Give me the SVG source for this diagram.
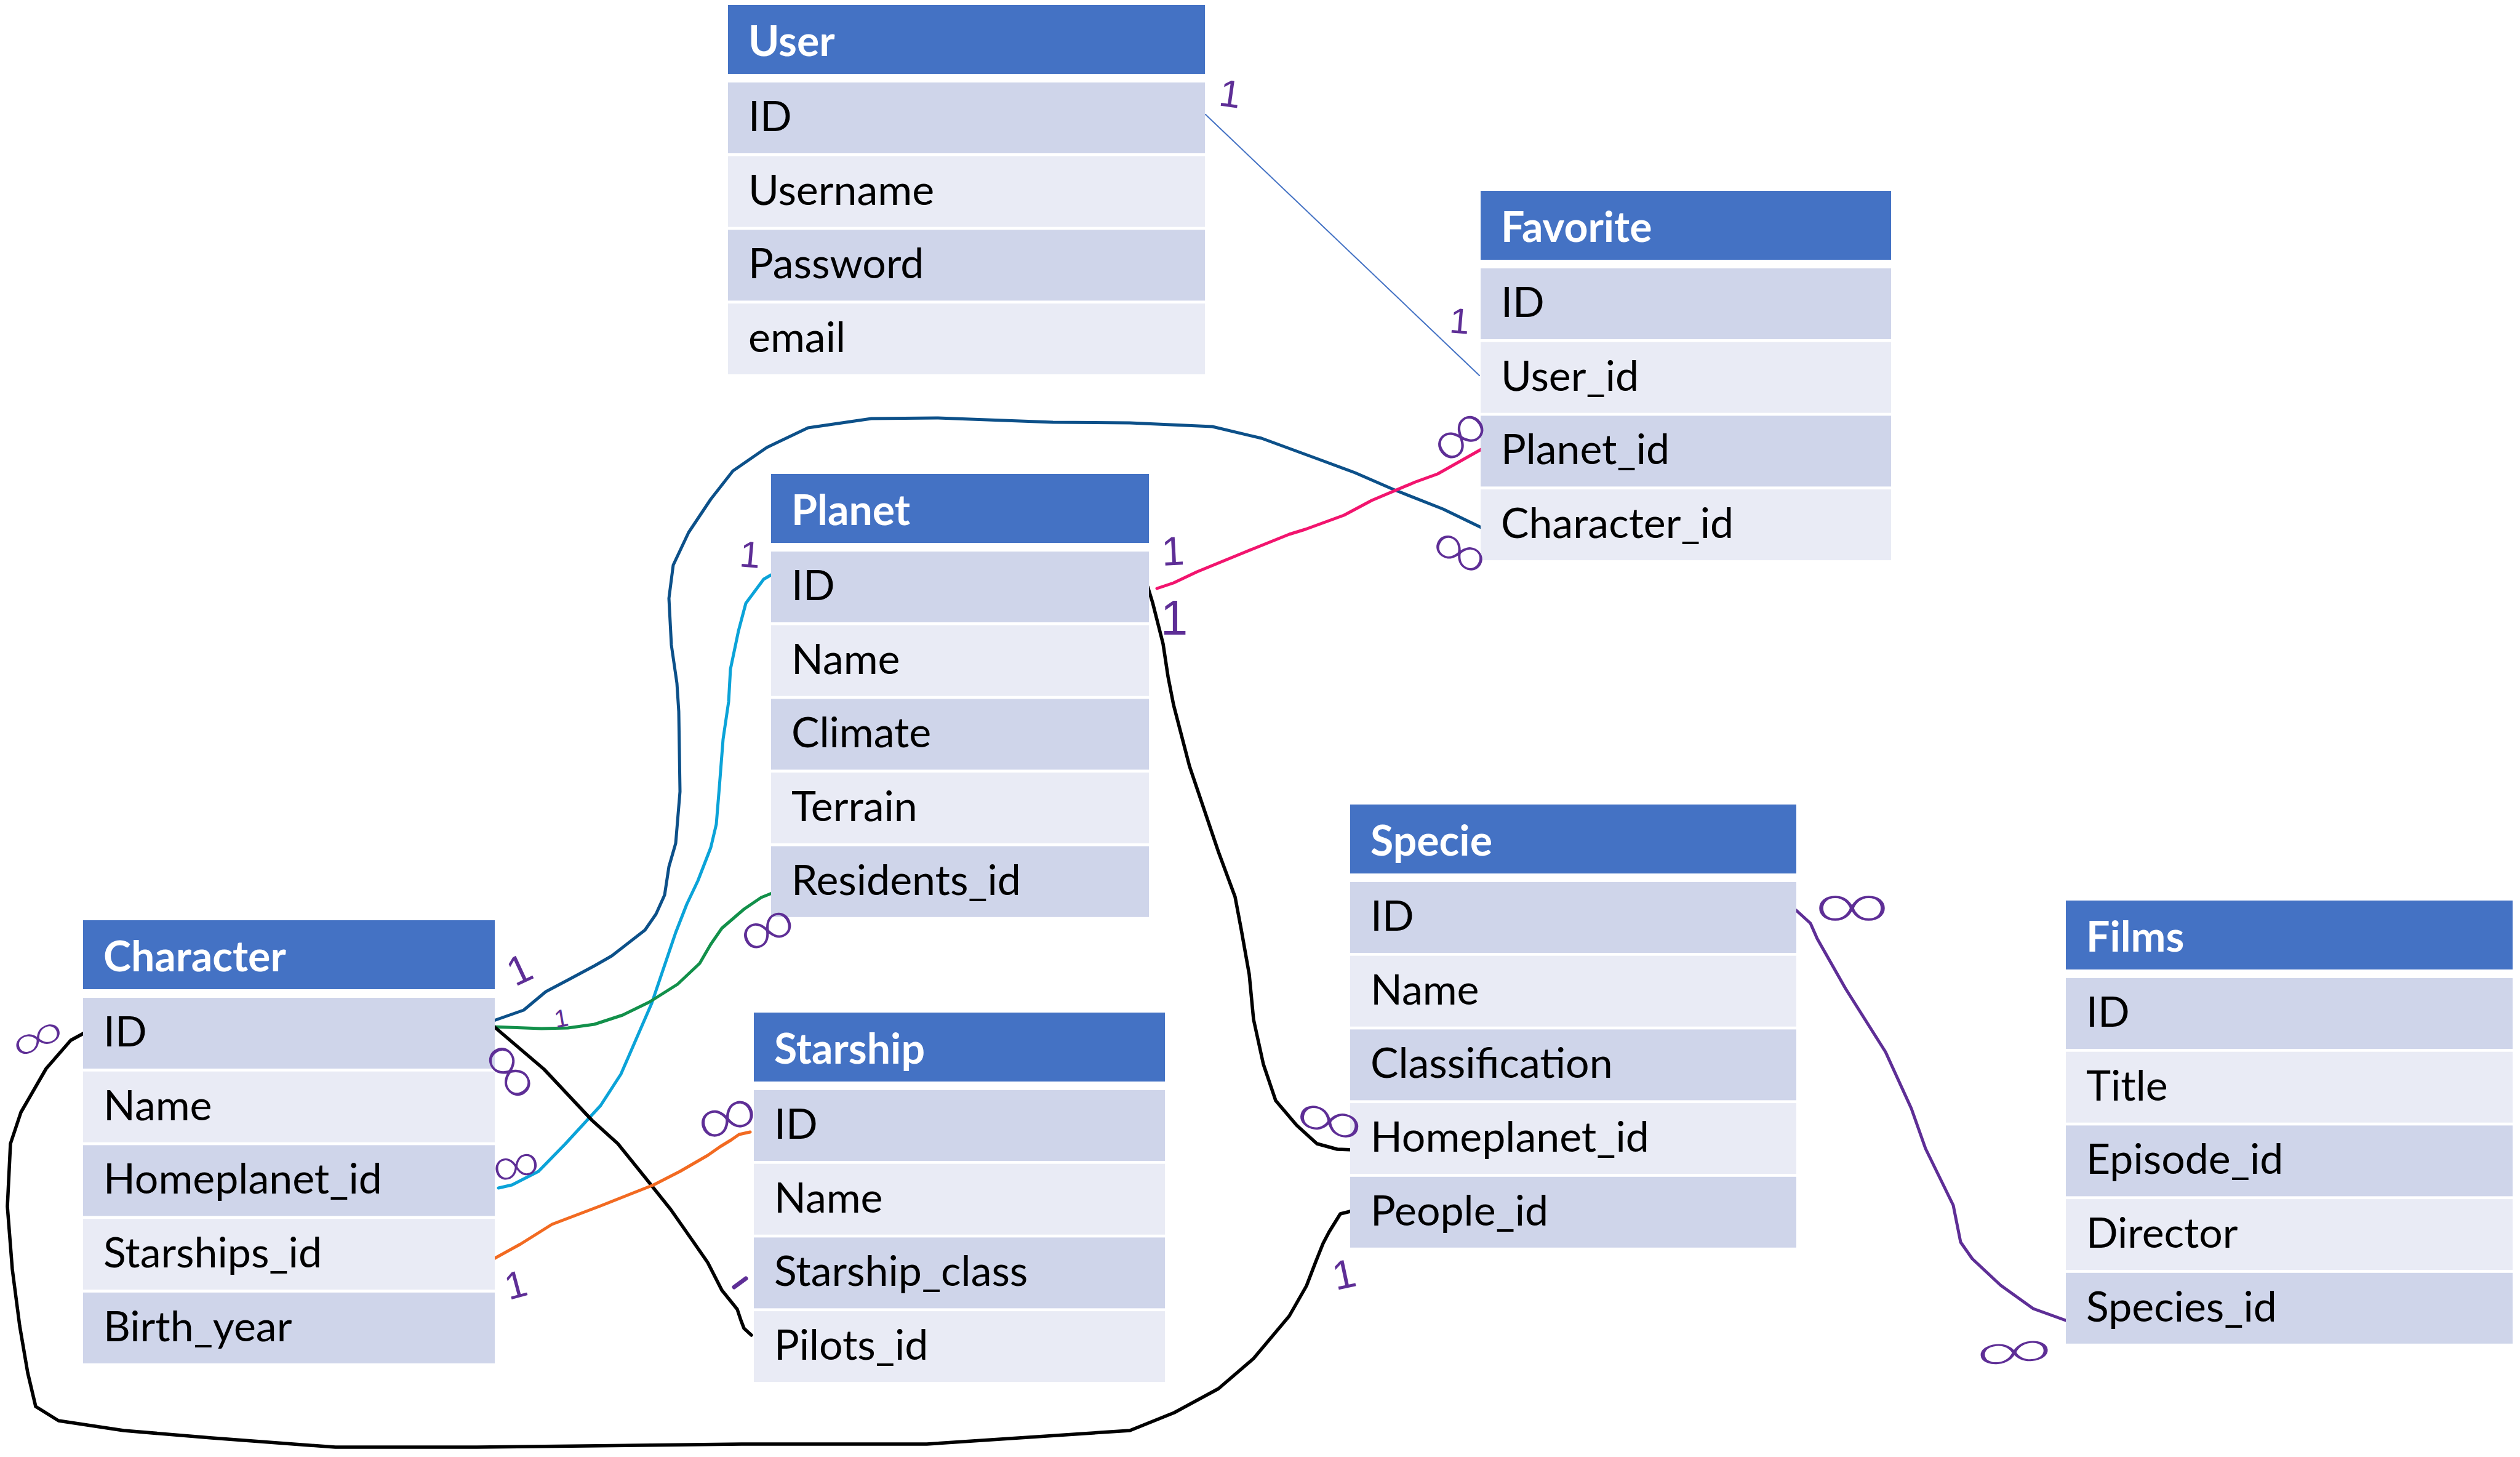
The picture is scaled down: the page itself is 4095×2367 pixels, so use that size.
<svg xmlns="http://www.w3.org/2000/svg" width="4095" height="2367" viewBox="0 0 4095 2367">
<style>
.hd{fill:#4472C4}
.ra{fill:#CFD5EA}
.rb{fill:#E9EBF5}
.ht{font-family:Lato,"Liberation Sans",sans-serif;font-weight:700;font-size:68px;fill:#FFFFFF}
.tx{font-family:Lato,"Liberation Sans",sans-serif;font-size:68px;fill:#000000}
.ln{fill:none;stroke-linecap:round;stroke-linejoin:round;stroke-width:5}
.bk{stroke:#000000;stroke-width:5.5}
.mk{fill:#5E2E96;font-family:"Liberation Sans",sans-serif;text-anchor:middle;dominant-baseline:central}
.inf{fill:#5E2E96;font-family:Roboto,"DejaVu Sans",sans-serif;font-weight:300;font-size:100px;text-anchor:middle;dominant-baseline:central}
</style>
<rect width="4095" height="2367" fill="#FFFFFF"/>

<g id="connectors">
<path class="ln" stroke="#4472C4" style="stroke-width:2" d="M1959,186 L2404,610"/>
<path class="ln" stroke="#0C5089" d="M794,1661 L851,1641 L887,1611 L923,1592 L966,1569 L994,1553 L1048,1511 L1066,1485 L1080,1454 L1087,1408 L1098,1370 L1105,1286 L1103,1156 L1100,1110 L1091,1048 L1087,972 L1094,918 L1119,865 L1155,811 L1191,765 L1246,727 L1313,695 L1416,680 L1523,679 L1711,686 L1836,687 L1970,693 L2050,712 L2148,748 L2202,768 L2264,795 L2345,827 L2407,857"/>
<path class="ln" stroke="#0BA3D8" d="M1253,934 L1241,941 L1212,980 L1200,1025 L1187,1087 L1184,1140 L1175,1201 L1169,1278 L1164,1339 L1155,1377 L1134,1431 L1116,1469 L1098,1515 L1059,1630 L1009,1745 L976,1796 L918,1859 L875,1903 L832,1925 L810,1930"/>
<path class="ln" stroke="#12904A" d="M800,1668 L880,1671 L923,1670 L966,1664 L1012,1649 L1055,1628 L1101,1599 L1137,1565 L1155,1534 L1173,1508 L1209,1477 L1237,1458 L1267,1446"/>
<path class="ln bk" d="M796,1662 L884,1737 L962,1820 L1004,1858 L1050,1915 L1090,1965 L1125,2015 L1150,2051 L1173,2096 L1198,2127 L1204,2145 L1209,2158 L1221,2169"/>
<path class="ln" stroke="#F26A21" d="M797,2048 L846,2021 L897,1989 L976,1959 L1062,1925 L1105,1903 L1150,1877 L1170,1863 L1188,1852 L1201,1843 L1219,1839"/>
<path class="ln" stroke="#F2146E" d="M1880,956 L1907,947 L1945,929 L2023,897 L2095,868 L2121,860 L2184,837 L2229,813 L2300,783 L2336,770 L2407,730"/>
<path class="ln bk" d="M1865,953 L1873,979 L1890,1046 L1898,1099 L1907,1145 L1933,1245 L1980,1384 L2007,1457 L2017,1510 L2030,1583 L2037,1656 L2053,1729 L2073,1788 L2107,1828 L2140,1858 L2173,1867 L2200,1868"/>
<path class="ln bk" d="M2198,1967 L2178,1972 L2160,2001 L2150,2020 L2138,2050 L2123,2089 L2095,2138 L2037,2207 L1980,2256 L1908,2295 L1836,2324 L1506,2346 L1205,2346 L775,2351 L545,2351 L344,2336 L201,2324 L95,2308 L58,2285 L45,2230 L32,2154 L20,2062 L12,1960 L17,1858 L34,1807 L75,1736 L115,1690 L139,1677"/>
<path class="ln" stroke="#5E2E96" d="M2919,1479 L2942,1500 L2953,1525 L2999,1606 L3064,1709 L3106,1801 L3129,1866 L3174,1958 L3186,2018 L3205,2045 L3251,2088 L3304,2126 L3365,2148"/>
</g>

<g id="table-user" transform="translate(1183,8)">
<rect class="hd" width="775" height="112"/><text class="ht" x="33" y="83">User</text>
<rect class="ra" y="126" width="775" height="115"/><text class="tx" x="33" y="205">ID</text>
<rect class="rb" y="245.7" width="775" height="115"/><text class="tx" x="33" y="324.7">Username</text>
<rect class="ra" y="365.4" width="775" height="115"/><text class="tx" x="33" y="444.4">Password</text>
<rect class="rb" y="485.1" width="775" height="115"/><text class="tx" x="33" y="564.1">email</text>
</g>

<g id="table-favorite" transform="translate(2406,310)">
<rect class="hd" width="667" height="112"/><text class="ht" x="33" y="83">Favorite</text>
<rect class="ra" y="126" width="667" height="115"/><text class="tx" x="33" y="205">ID</text>
<rect class="rb" y="245.7" width="667" height="115"/><text class="tx" x="33" y="324.7">User_id</text>
<rect class="ra" y="365.4" width="667" height="115"/><text class="tx" x="33" y="444.4">Planet_id</text>
<rect class="rb" y="485.1" width="667" height="115"/><text class="tx" x="33" y="564.1">Character_id</text>
</g>

<g id="table-planet" transform="translate(1253,770)">
<rect class="hd" width="614" height="112"/><text class="ht" x="33" y="83">Planet</text>
<rect class="ra" y="126" width="614" height="115"/><text class="tx" x="33" y="205">ID</text>
<rect class="rb" y="245.7" width="614" height="115"/><text class="tx" x="33" y="324.7">Name</text>
<rect class="ra" y="365.4" width="614" height="115"/><text class="tx" x="33" y="444.4">Climate</text>
<rect class="rb" y="485.1" width="614" height="115"/><text class="tx" x="33" y="564.1">Terrain</text>
<rect class="ra" y="604.8" width="614" height="115"/><text class="tx" x="33" y="683.8">Residents_id</text>
</g>

<g id="table-character" transform="translate(135,1495)">
<rect class="hd" width="669" height="112"/><text class="ht" x="33" y="83">Character</text>
<rect class="ra" y="126" width="669" height="115"/><text class="tx" x="33" y="205">ID</text>
<rect class="rb" y="245.7" width="669" height="115"/><text class="tx" x="33" y="324.7">Name</text>
<rect class="ra" y="365.4" width="669" height="115"/><text class="tx" x="33" y="444.4">Homeplanet_id</text>
<rect class="rb" y="485.1" width="669" height="115"/><text class="tx" x="33" y="564.1">Starships_id</text>
<rect class="ra" y="604.8" width="669" height="115"/><text class="tx" x="33" y="683.8">Birth_year</text>
</g>

<g id="table-starship" transform="translate(1225,1645)">
<rect class="hd" width="668" height="112"/><text class="ht" x="33" y="83">Starship</text>
<rect class="ra" y="126" width="668" height="115"/><text class="tx" x="33" y="205">ID</text>
<rect class="rb" y="245.7" width="668" height="115"/><text class="tx" x="33" y="324.7">Name</text>
<rect class="ra" y="365.4" width="668" height="115"/><text class="tx" x="33" y="444.4">Starship_class</text>
<rect class="rb" y="485.1" width="668" height="115"/><text class="tx" x="33" y="564.1">Pilots_id</text>
</g>

<g id="table-specie" transform="translate(2194,1307)">
<rect class="hd" width="725" height="112"/><text class="ht" x="33" y="83">Specie</text>
<rect class="ra" y="126" width="725" height="115"/><text class="tx" x="33" y="205">ID</text>
<rect class="rb" y="245.7" width="725" height="115"/><text class="tx" x="33" y="324.7">Name</text>
<rect class="ra" y="365.4" width="725" height="115"/><text class="tx" x="33" y="444.4">Classification</text>
<rect class="rb" y="485.1" width="725" height="115"/><text class="tx" x="33" y="564.1">Homeplanet_id</text>
<rect class="ra" y="604.8" width="725" height="115"/><text class="tx" x="33" y="683.8">People_id</text>
</g>

<g id="table-films" transform="translate(3357,1463)">
<rect class="hd" width="726" height="112"/><text class="ht" x="33" y="83">Films</text>
<rect class="ra" y="126" width="726" height="115"/><text class="tx" x="33" y="205">ID</text>
<rect class="rb" y="245.7" width="726" height="115"/><text class="tx" x="33" y="324.7">Title</text>
<rect class="ra" y="365.4" width="726" height="115"/><text class="tx" x="33" y="444.4">Episode_id</text>
<rect class="rb" y="485.1" width="726" height="115"/><text class="tx" x="33" y="564.1">Director</text>
<rect class="ra" y="604.8" width="726" height="115"/><text class="tx" x="33" y="683.8">Species_id</text>
</g>

<g id="cardinality">
<text class="mk" font-size="62" transform="translate(1999,152) rotate(8)">1</text>
<text class="mk" font-size="58" transform="translate(2372,521) rotate(5)">1</text>
<text class="mk" font-size="60" transform="translate(1219,901) rotate(5)">1</text>
<text class="mk" font-size="66" transform="translate(1906,895) rotate(-3)">1</text>
<text class="mk" font-size="80" transform="translate(1908,1003)">1</text>
<text class="mk" font-size="66" transform="translate(844,1575) rotate(-25)">1</text>
<text class="mk" font-size="40" transform="translate(912,1654) rotate(-10)">1</text>
<text class="mk" font-size="62" transform="translate(838,2087) rotate(-15)">1</text>
<text class="mk" font-size="66" transform="translate(2184,2070) rotate(-12)">1</text>
<path d="M1193,2091 L1212,2077" stroke="#5E2E96" stroke-width="7" stroke-linecap="round" fill="none"/>
<text class="inf" transform="translate(2370,705) rotate(-40) scale(0.87,0.78)">∞</text>
<text class="inf" transform="translate(2374,894) rotate(28) scale(0.85,0.67)">∞</text>
<text class="inf" transform="translate(1245,1506) rotate(-25) scale(0.85,0.74)">∞</text>
<text class="inf" transform="translate(833,1738) rotate(55) scale(0.92,0.74)">∞</text>
<text class="inf" transform="translate(838,1891) rotate(-12) scale(0.72,0.63)">∞</text>
<text class="inf" transform="translate(60,1684) rotate(-25) scale(0.8,0.55)">∞</text>
<text class="inf" transform="translate(1180,1812) rotate(-20) scale(0.92,0.78)">∞</text>
<text class="inf" transform="translate(2162,1817) rotate(15) scale(1.03,0.69)">∞</text>
<text class="inf" transform="translate(3010,1470) scale(1.14,0.74)">∞</text>
<text class="inf" transform="translate(3273,2193) rotate(-5) scale(1.17,0.59)">∞</text>
</g>
</svg>
